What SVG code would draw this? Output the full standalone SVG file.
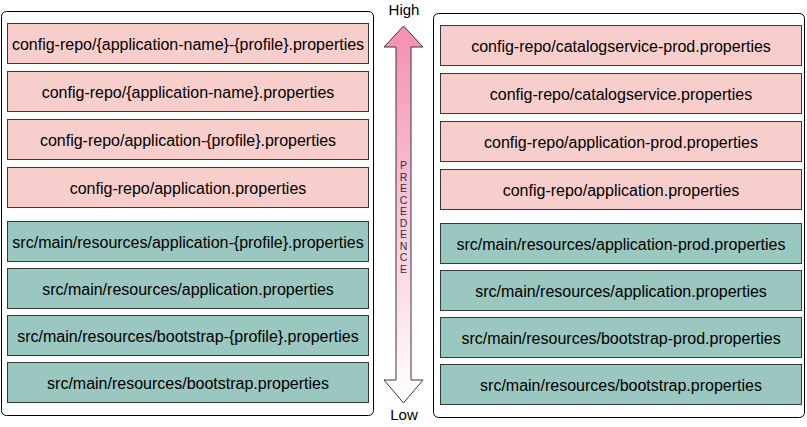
<svg xmlns="http://www.w3.org/2000/svg" width="807" height="427" viewBox="0 0 807 427">
<style>
.cont{fill:#ffffff;stroke:#000000;stroke-width:1}
.pink{fill:#f8cecc;stroke:#36393d;stroke-width:1}
.green{fill:#9ac7bf;stroke:#36393d;stroke-width:1}
.lbl{font-family:"Liberation Sans",Arial,sans-serif;font-size:16px;fill:#000000;text-anchor:middle;dominant-baseline:central}
.end{font-family:"Liberation Sans",Arial,sans-serif;font-size:15px;fill:#000000;text-anchor:middle}
.prec{font-family:"Liberation Sans",Arial,sans-serif;font-size:10.5px;fill:#333333;text-anchor:middle}
</style>
<defs>
<linearGradient id="grad" x1="0" y1="0" x2="0" y2="1">
<stop offset="0" stop-color="#f48fb1"/>
<stop offset="1" stop-color="#ffffff"/>
</linearGradient>
</defs>
<g id="left-container"><rect class="cont" x="1.5" y="11.5" width="372" height="404" rx="5"/></g>
<g id="right-container"><rect class="cont" x="433.5" y="13.5" width="371" height="404" rx="5"/></g>

<g id="l1"><rect class="pink" x="7.5" y="23.5" width="361" height="40"/><text class="lbl" x="188" y="44">config-repo/{application-name}-{profile}.properties</text></g>
<g id="l2"><rect class="pink" x="7.5" y="71.5" width="361" height="40"/><text class="lbl" x="188" y="92">config-repo/{application-name}.properties</text></g>
<g id="l3"><rect class="pink" x="7.5" y="119.5" width="361" height="40"/><text class="lbl" x="188" y="140">config-repo/application-{profile}.properties</text></g>
<g id="l4"><rect class="pink" x="7.5" y="167.5" width="361" height="40"/><text class="lbl" x="188" y="188">config-repo/application.properties</text></g>
<g id="l5"><rect class="green" x="7.5" y="221.5" width="361" height="40"/><text class="lbl" x="188" y="242">src/main/resources/application-{profile}.properties</text></g>
<g id="l6"><rect class="green" x="7.5" y="268.5" width="361" height="40"/><text class="lbl" x="188" y="289">src/main/resources/application.properties</text></g>
<g id="l7"><rect class="green" x="7.5" y="315.5" width="361" height="40"/><text class="lbl" x="188" y="336">src/main/resources/bootstrap-{profile}.properties</text></g>
<g id="l8"><rect class="green" x="7.5" y="362.5" width="361" height="40"/><text class="lbl" x="188" y="383">src/main/resources/bootstrap.properties</text></g>

<g id="r1"><rect class="pink" x="440.5" y="25.5" width="361" height="40"/><text class="lbl" x="621" y="46">config-repo/catalogservice-prod.properties</text></g>
<g id="r2"><rect class="pink" x="440.5" y="73.5" width="361" height="40"/><text class="lbl" x="621" y="94">config-repo/catalogservice.properties</text></g>
<g id="r3"><rect class="pink" x="440.5" y="121.5" width="361" height="40"/><text class="lbl" x="621" y="142">config-repo/application-prod.properties</text></g>
<g id="r4"><rect class="pink" x="440.5" y="169.5" width="361" height="40"/><text class="lbl" x="621" y="190">config-repo/application.properties</text></g>
<g id="r5"><rect class="green" x="440.5" y="223.5" width="361" height="40"/><text class="lbl" x="621" y="244">src/main/resources/application-prod.properties</text></g>
<g id="r6"><rect class="green" x="440.5" y="270.5" width="361" height="40"/><text class="lbl" x="621" y="291">src/main/resources/application.properties</text></g>
<g id="r7"><rect class="green" x="440.5" y="317.5" width="361" height="40"/><text class="lbl" x="621" y="338">src/main/resources/bootstrap-prod.properties</text></g>
<g id="r8"><rect class="green" x="440.5" y="364.5" width="361" height="40"/><text class="lbl" x="621" y="385">src/main/resources/bootstrap.properties</text></g>

<g id="precedence-arrow">
<path d="M403.5,26 L423,47 L411,47 L411,380 L423,380 L403.5,403 L384,380 L396,380 L396,47 L384,47 Z" fill="url(#grad)" stroke="#36393d" stroke-width="1"/>
<text class="end" x="404" y="15">High</text>
<text class="end" x="404" y="420">Low</text>
<g class="prec">
<text x="403.5" y="169">P</text>
<text x="403.5" y="180.5">R</text>
<text x="403.5" y="192">E</text>
<text x="403.5" y="203.5">C</text>
<text x="403.5" y="215">E</text>
<text x="403.5" y="226.5">D</text>
<text x="403.5" y="238">E</text>
<text x="403.5" y="249.5">N</text>
<text x="403.5" y="261">C</text>
<text x="403.5" y="272.5">E</text>
</g>
</g>
</svg>
